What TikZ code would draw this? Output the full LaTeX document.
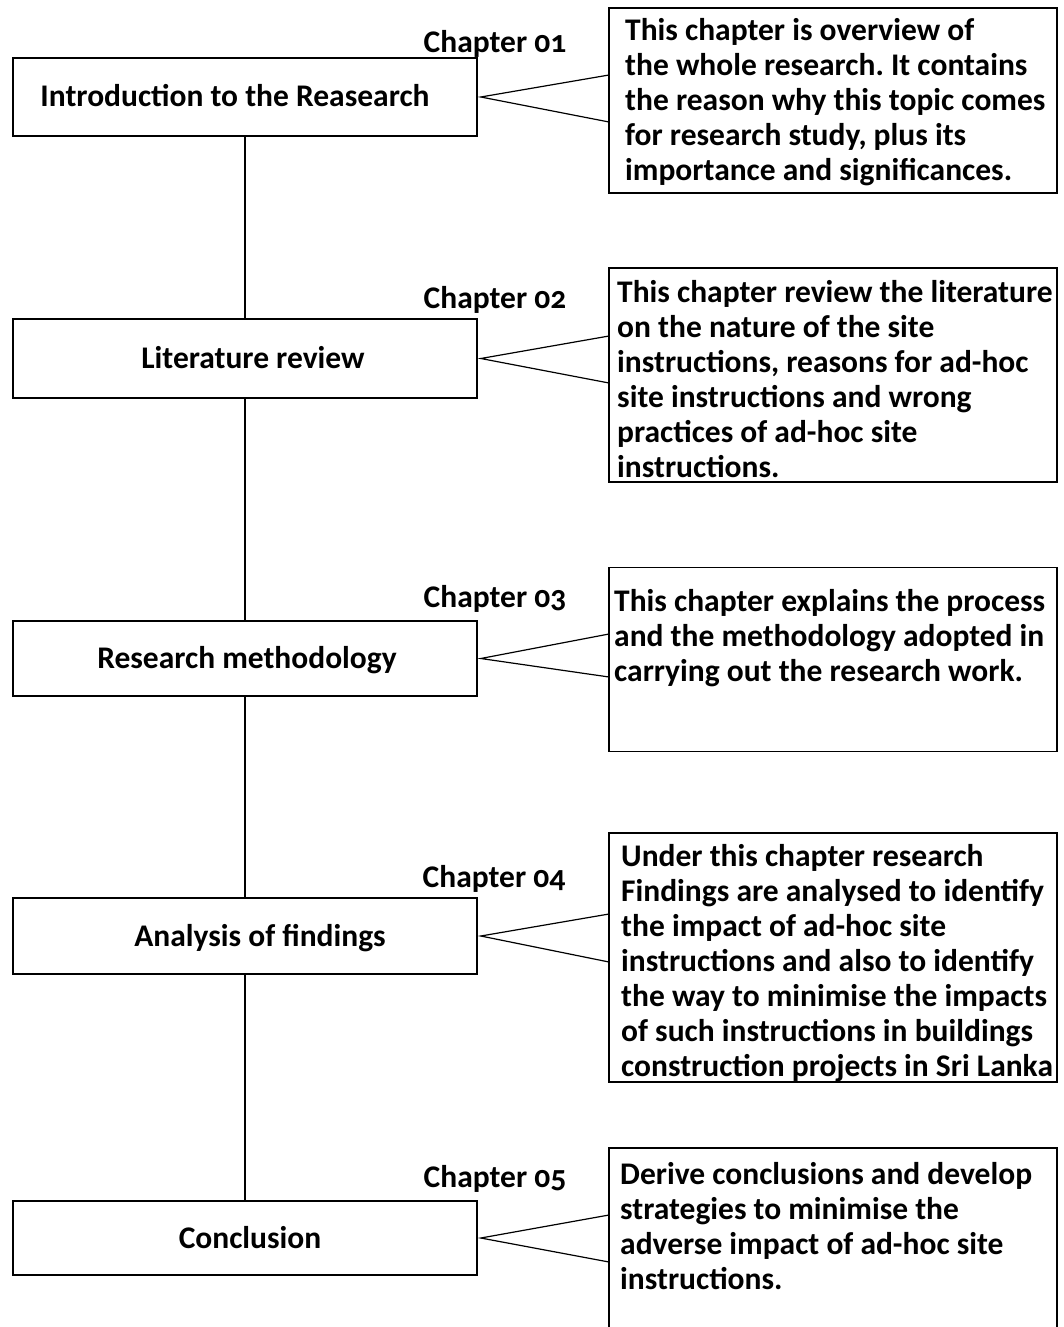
\documentclass[tikz,border=0pt]{standalone}
\usepackage{fontspec}
\setmainfont{Carlito}[Numbers=OldStyle]
\frenchspacing
\begin{document}
\begin{tikzpicture}[x=1pt,y=-1pt,
  chapbox/.style={draw, line width=1.6pt, minimum width=464pt, inner sep=0pt,
    font=\bfseries\fontsize{31.5}{35}\selectfont, text height=24pt, text depth=4pt},
  descbox/.style={draw, line width=1.6pt, minimum width=448pt, inner sep=0pt},
  desctext/.style={anchor=north west, inner sep=0pt, align=left,
    font=\bfseries\fontsize{31.5}{35}\selectfont\frenchspacing},
  chaplabel/.style={anchor=base, inner sep=0pt, font=\bfseries\fontsize{31.5}{35}\selectfont},
  link/.style={line width=1.4pt},
  callout/.style={line width=1.2pt}]
\useasboundingbox (0,0) rectangle (1064,1327);
\clip (0,0) rectangle (1064,1327);

% left chapter boxes
\node[chapbox, minimum height=78pt] (c1) at (245,97) {\hspace*{-20pt}Introduction to the Reasearch};
\node[chapbox, minimum height=79pt] (c2) at (245,358.5) {\hspace*{16pt}Literature review};
\node[chapbox, minimum height=75pt] (c3) at (245,658.5) {\hspace*{4pt}Research methodology};
\node[chapbox, minimum height=76pt] (c4) at (245,936) {\hspace*{30pt}Analysis of findings};
\node[chapbox, minimum height=74pt] (c5) at (245,1238) {\hspace*{10pt}Conclusion};

% vertical connectors
\draw[link] (c1.south) -- (c2.north);
\draw[link] (c2.south) -- (c3.north);
\draw[link] (c3.south) -- (c4.north);
\draw[link] (c4.south) -- (c5.north);

% chapter labels
\node[chaplabel] (l1) at (495,53) {Chapter 01};
\node[chaplabel] (l2) at (495,308) {Chapter 02};
\node[chaplabel] (l3) at (495,607) {Chapter 03};
\node[chaplabel] (l4) at (494,887) {Chapter 04};
\node[chaplabel] (l5) at (495,1187) {Chapter 05};

% right description boxes
\node[descbox, minimum height=185pt] (d1) at (833,100.5) {};
\node[descbox, minimum height=214pt] (d2) at (833,375) {};
\node[descbox, minimum height=184pt] (d3) at (833,659.5) {};
\node[descbox, minimum height=249pt] (d4) at (833,957.5) {};
\node[descbox, minimum height=200pt] (d5) at (833,1248) {};

% description texts
\node[desctext] (t1) at (625,18.5) {This chapter is overview of\\the whole research. It contains\\the reason why this topic comes\\for research study, plus its\\importance and significances.};
\node[desctext] (t2) at (617,280.5) {This chapter review the literature\\on the nature of the site\\instructions, reasons for ad-hoc\\site instructions and wrong\\practices of ad-hoc site\\instructions.};
\node[desctext] (t3) at (614,589.5) {This chapter explains the process\\and the methodology adopted in\\carrying out the research work.};
\node[desctext] (t4) at (621,844.5) {Under this chapter research\\Findings are analysed to identify\\the impact of ad-hoc site\\instructions and also to identify\\the way to minimise the impacts\\of such instructions in buildings\\construction projects in Sri Lanka};
\node[desctext] (t5) at (620,1162.5) {Derive conclusions and develop\\strategies to minimise the\\adverse impact of ad-hoc site\\instructions.};

% callout wedges
\coordinate (a1) at (609,75);   \coordinate (b1) at (609,122);
\coordinate (a2) at (609,336);  \coordinate (b2) at (609,383);
\coordinate (a3) at (609,634);  \coordinate (b3) at (609,677);
\coordinate (a4) at (609,914);  \coordinate (b4) at (609,962);
\coordinate (a5) at (609,1215); \coordinate (b5) at (609,1262);
\draw[callout] (a1) -- ([xshift=3pt]c1.east) -- (b1);
\draw[callout] (a2) -- ([xshift=3pt]c2.east) -- (b2);
\draw[callout] (a3) -- ([xshift=3pt]c3.east) -- (b3);
\draw[callout] (a4) -- ([xshift=3pt]c4.east) -- (b4);
\draw[callout] (a5) -- ([xshift=3pt]c5.east) -- (b5);
\end{tikzpicture}
\end{document}
